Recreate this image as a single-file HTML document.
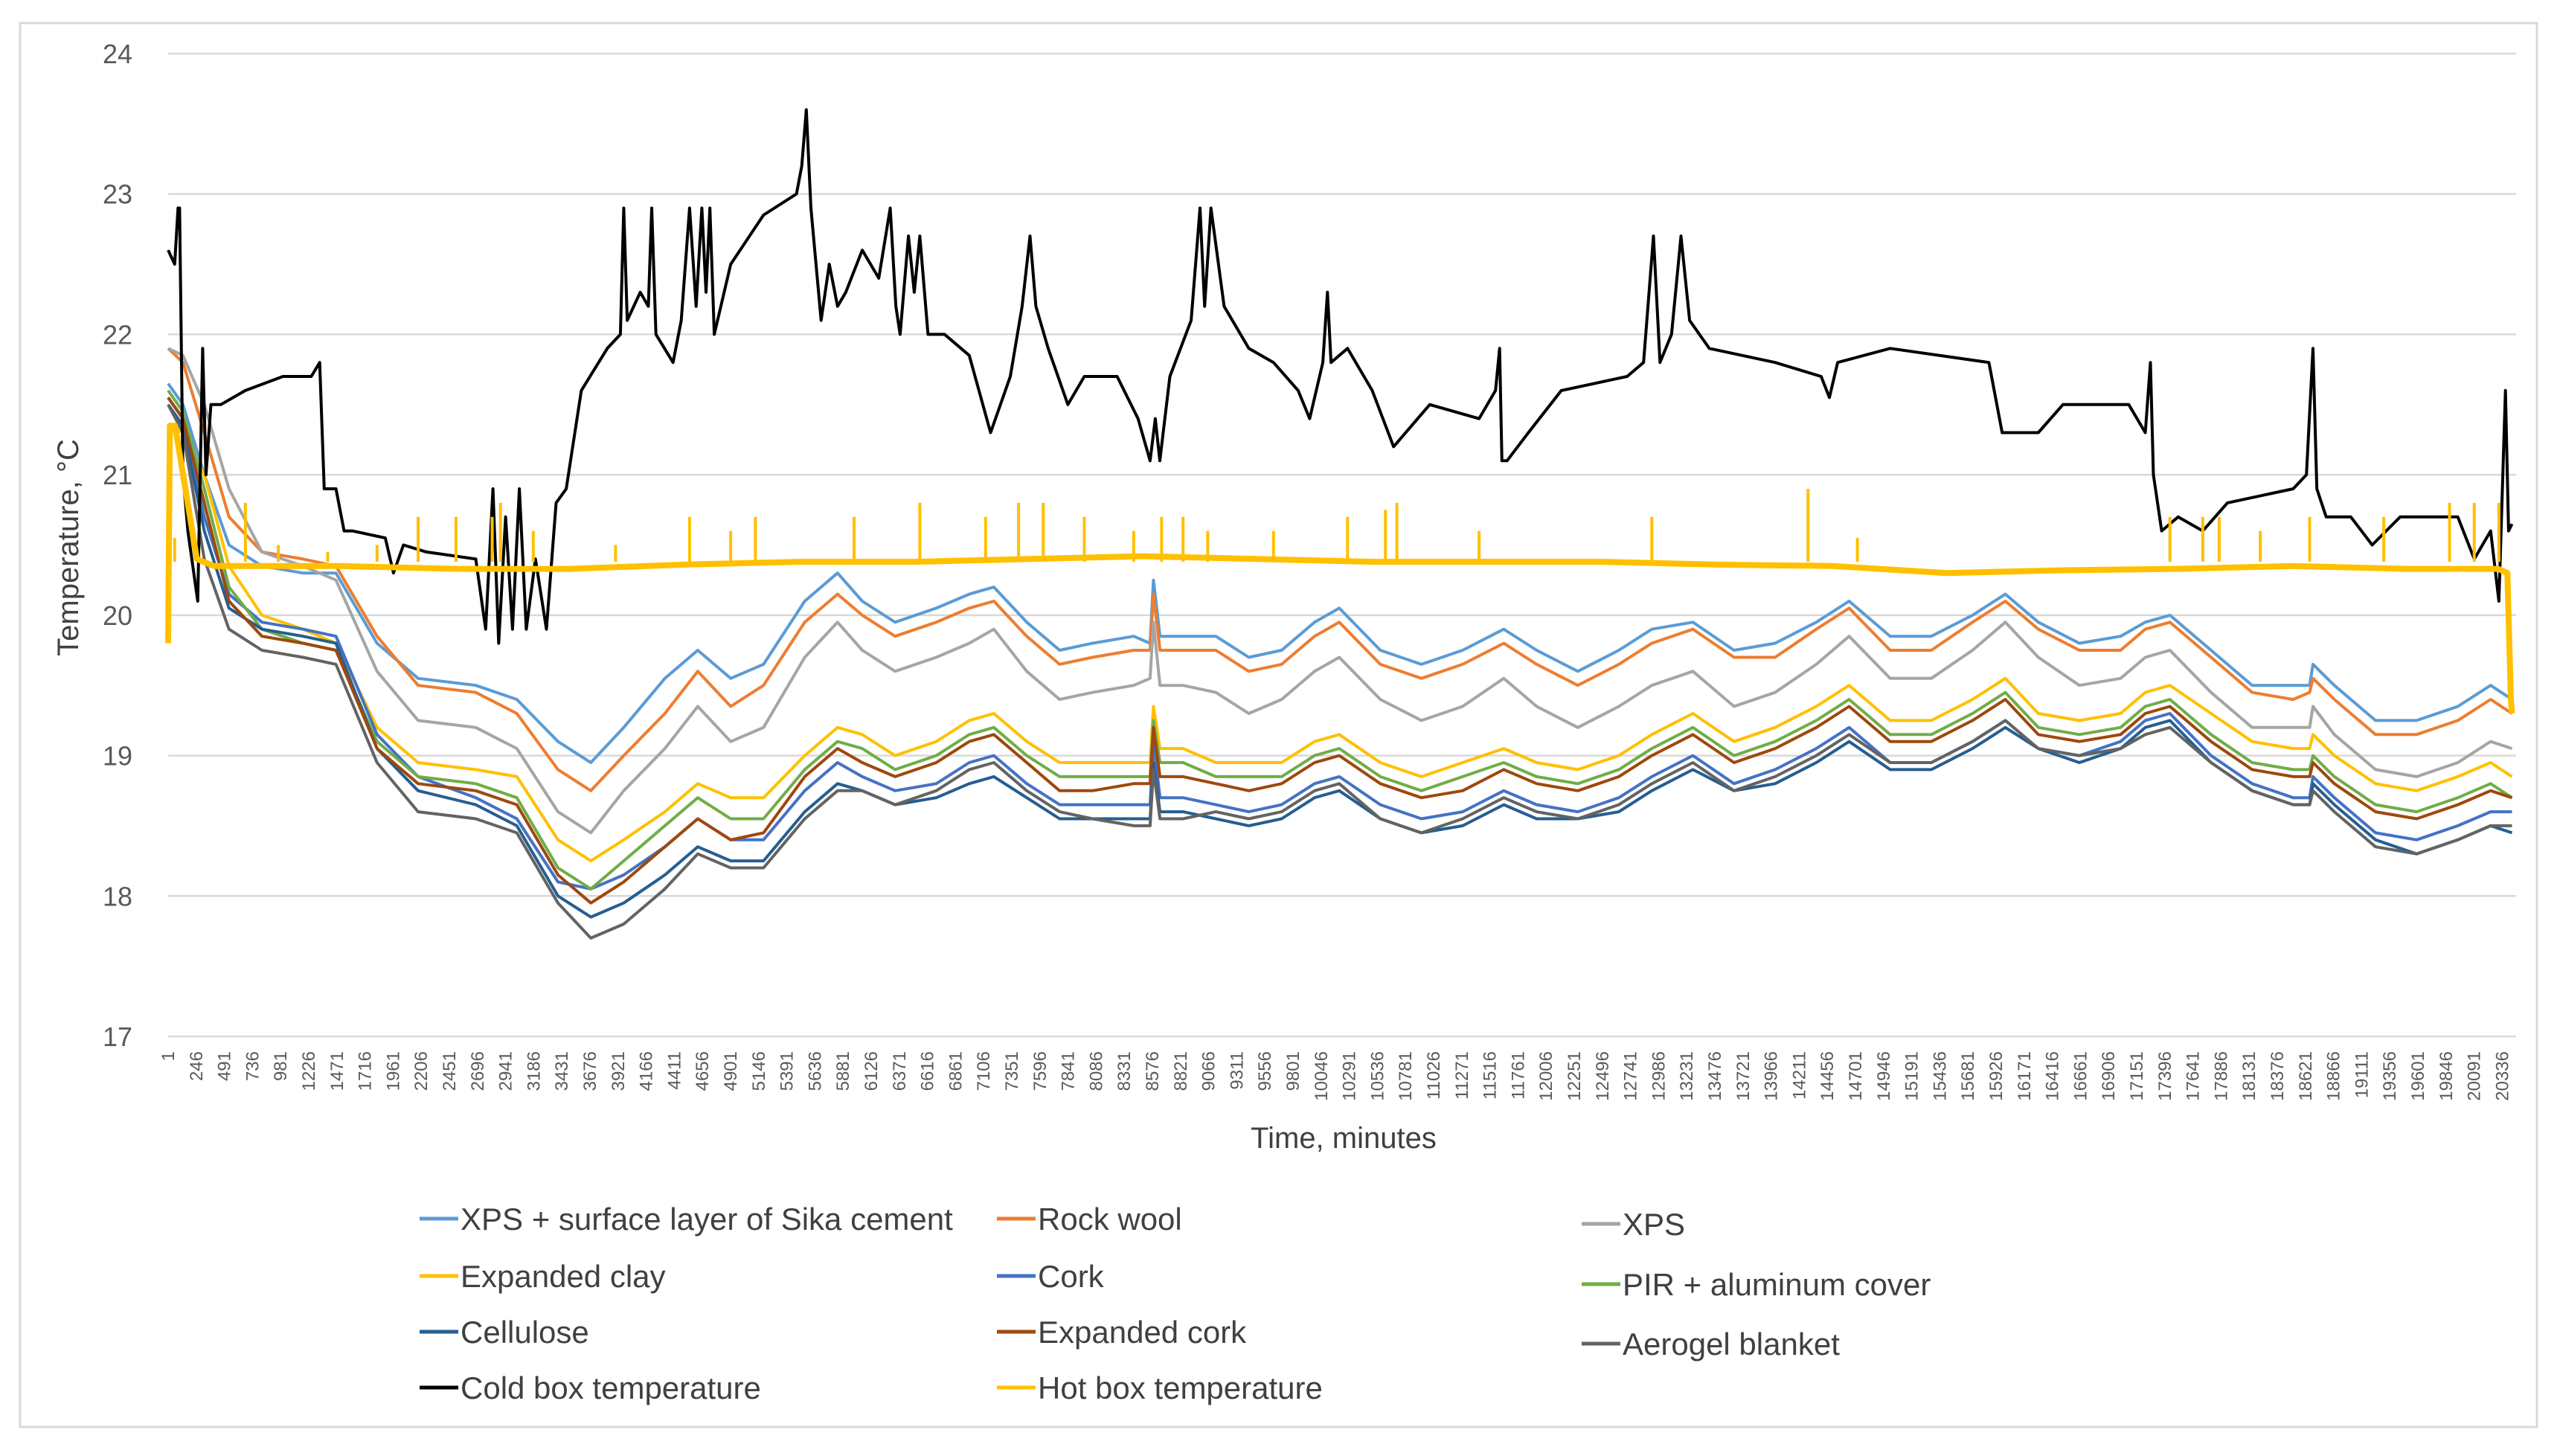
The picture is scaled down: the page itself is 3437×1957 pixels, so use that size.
<!DOCTYPE html>
<html><head><meta charset="utf-8"><style>
html,body{margin:0;padding:0;background:#fff;}
svg{display:block;font-family:"Liberation Sans",sans-serif;}
</style></head><body>
<svg id="chart" width="3437" height="1957" viewBox="0 0 3437 1957" xmlns="http://www.w3.org/2000/svg">
<rect x="27" y="31" width="3383" height="1887" fill="#fff" stroke="#d9d9d9" stroke-width="3"/>
<g id="grid"></g>
<g id="ylabels"></g>
<g id="xlabels"></g>
<g id="series"></g>
<text x="1806" y="1543" font-size="40" fill="#404040" text-anchor="middle">Time, minutes</text>
<text transform="translate(105,736) rotate(-90)" font-size="40" fill="#404040" text-anchor="middle">Temperature, °C</text>
<g id="legend"></g>
</svg>
<script>
const yTicks=[17,18,19,20,21,22,23,24];
const tMat=[0,129,315,530,817,1175,1462,1820,2178,2680,3038,3396,3683,3969,4328,4614,4901,5187,5546,5832,6047,6334,6692,6979,7194,7480,7767,8053,8412,8555,8584,8641,8842,9128,9415,9701,9988,10203,10561,10919,11278,11636,11923,12281,12639,12926,13284,13642,14000,14359,14645,15003,15361,15720,16006,16293,16651,17010,17225,17440,17798,18156,18514,18657,18686,18872,19231,19589,19948,20234,20420];
const sika=[21.65,21.5,21.0,20.5,20.35,20.3,20.3,19.8,19.55,19.5,19.4,19.1,18.95,19.2,19.55,19.75,19.55,19.65,20.1,20.3,20.1,19.95,20.05,20.15,20.2,19.95,19.75,19.8,19.85,19.8,20.25,19.85,19.85,19.85,19.7,19.75,19.95,20.05,19.75,19.65,19.75,19.9,19.75,19.6,19.75,19.9,19.95,19.75,19.8,19.95,20.1,19.85,19.85,20.0,20.15,19.95,19.8,19.85,19.95,20.0,19.75,19.5,19.5,19.5,19.65,19.5,19.25,19.25,19.35,19.5,19.4];
const rockwool=[21.9,21.8,21.3,20.7,20.45,20.4,20.35,19.85,19.5,19.45,19.3,18.9,18.75,19.0,19.3,19.6,19.35,19.5,19.95,20.15,20.0,19.85,19.95,20.05,20.1,19.85,19.65,19.7,19.75,19.75,20.15,19.75,19.75,19.75,19.6,19.65,19.85,19.95,19.65,19.55,19.65,19.8,19.65,19.5,19.65,19.8,19.9,19.7,19.7,19.9,20.05,19.75,19.75,19.95,20.1,19.9,19.75,19.75,19.9,19.95,19.7,19.45,19.4,19.45,19.55,19.4,19.15,19.15,19.25,19.4,19.3];
const xps=[21.9,21.85,21.5,20.9,20.45,20.35,20.25,19.6,19.25,19.2,19.05,18.6,18.45,18.75,19.05,19.35,19.1,19.2,19.7,19.95,19.75,19.6,19.7,19.8,19.9,19.6,19.4,19.45,19.5,19.55,19.95,19.5,19.5,19.45,19.3,19.4,19.6,19.7,19.4,19.25,19.35,19.55,19.35,19.2,19.35,19.5,19.6,19.35,19.45,19.65,19.85,19.55,19.55,19.75,19.95,19.7,19.5,19.55,19.7,19.75,19.45,19.2,19.2,19.2,19.35,19.15,18.9,18.85,18.95,19.1,19.05];
const clay=[21.35,21.3,21.0,20.35,20.0,19.9,19.8,19.2,18.95,18.9,18.85,18.4,18.25,18.4,18.6,18.8,18.7,18.7,19.0,19.2,19.15,19.0,19.1,19.25,19.3,19.1,18.95,18.95,18.95,18.95,19.35,19.05,19.05,18.95,18.95,18.95,19.1,19.15,18.95,18.85,18.95,19.05,18.95,18.9,19.0,19.15,19.3,19.1,19.2,19.35,19.5,19.25,19.25,19.4,19.55,19.3,19.25,19.3,19.45,19.5,19.3,19.1,19.05,19.05,19.15,19.0,18.8,18.75,18.85,18.95,18.85];
const cork=[21.55,21.4,20.7,20.15,19.95,19.9,19.85,19.15,18.85,18.7,18.55,18.1,18.05,18.15,18.35,18.55,18.4,18.4,18.75,18.95,18.85,18.75,18.8,18.95,19.0,18.8,18.65,18.65,18.65,18.65,19.1,18.7,18.7,18.65,18.6,18.65,18.8,18.85,18.65,18.55,18.6,18.75,18.65,18.6,18.7,18.85,19.0,18.8,18.9,19.05,19.2,18.95,18.95,19.1,19.25,19.05,19.0,19.1,19.25,19.3,19.0,18.8,18.7,18.7,18.85,18.7,18.45,18.4,18.5,18.6,18.6];
const pir=[21.6,21.45,20.9,20.2,19.9,19.8,19.75,19.1,18.85,18.8,18.7,18.2,18.05,18.25,18.5,18.7,18.55,18.55,18.9,19.1,19.05,18.9,19.0,19.15,19.2,19.0,18.85,18.85,18.85,18.85,19.25,18.95,18.95,18.85,18.85,18.85,19.0,19.05,18.85,18.75,18.85,18.95,18.85,18.8,18.9,19.05,19.2,19.0,19.1,19.25,19.4,19.15,19.15,19.3,19.45,19.2,19.15,19.2,19.35,19.4,19.15,18.95,18.9,18.9,19.0,18.85,18.65,18.6,18.7,18.8,18.7];
const cellulose=[21.5,21.35,20.6,20.05,19.9,19.85,19.8,19.05,18.75,18.65,18.5,18.0,17.85,17.95,18.15,18.35,18.25,18.25,18.6,18.8,18.75,18.65,18.7,18.8,18.85,18.7,18.55,18.55,18.55,18.55,18.95,18.6,18.6,18.55,18.5,18.55,18.7,18.75,18.55,18.45,18.5,18.65,18.55,18.55,18.6,18.75,18.9,18.75,18.8,18.95,19.1,18.9,18.9,19.05,19.2,19.05,18.95,19.05,19.2,19.25,18.95,18.75,18.65,18.65,18.8,18.65,18.4,18.3,18.4,18.5,18.45];
const expcork=[21.55,21.4,20.8,20.1,19.85,19.8,19.75,19.05,18.8,18.75,18.65,18.15,17.95,18.1,18.35,18.55,18.4,18.45,18.85,19.05,18.95,18.85,18.95,19.1,19.15,18.95,18.75,18.75,18.8,18.8,19.2,18.85,18.85,18.8,18.75,18.8,18.95,19.0,18.8,18.7,18.75,18.9,18.8,18.75,18.85,19.0,19.15,18.95,19.05,19.2,19.35,19.1,19.1,19.25,19.4,19.15,19.1,19.15,19.3,19.35,19.1,18.9,18.85,18.85,18.95,18.8,18.6,18.55,18.65,18.75,18.7];
const aerogel=[21.5,21.3,20.4,19.9,19.75,19.7,19.65,18.95,18.6,18.55,18.45,17.95,17.7,17.8,18.05,18.3,18.2,18.2,18.55,18.75,18.75,18.65,18.75,18.9,18.95,18.75,18.6,18.55,18.5,18.5,18.9,18.55,18.55,18.6,18.55,18.6,18.75,18.8,18.55,18.45,18.55,18.7,18.6,18.55,18.65,18.8,18.95,18.75,18.85,19.0,19.15,18.95,18.95,19.1,19.25,19.05,19.0,19.05,19.15,19.2,18.95,18.75,18.65,18.65,18.75,18.6,18.35,18.3,18.4,18.5,18.5];
const coldT=[0,57,86,100,129,172,258,301,330,373,459,673,1000,1247,1320,1360,1462,1533,1605,1892,1963,2050,2250,2680,2766,2830,2880,2940,3000,3060,3120,3200,3296,3380,3468,3600,3826,3940,3969,4000,4113,4184,4213,4250,4399,4470,4543,4600,4650,4686,4720,4758,4901,5187,5474,5520,5560,5600,5689,5760,5832,5904,6047,6191,6291,6340,6377,6450,6500,6549,6620,6764,6979,7165,7337,7440,7509,7560,7667,7839,7982,8268,8450,8555,8600,8640,8727,8913,8990,9030,9085,9200,9415,9630,9845,9945,10060,10100,10131,10275,10490,10676,10991,11421,11564,11600,11620,11665,11851,12138,12711,12854,12940,12997,13098,13180,13255,13427,14000,14401,14473,14545,15003,15863,15978,16293,16508,17081,17225,17270,17296,17368,17511,17726,17941,18514,18629,18686,18720,18801,19016,19202,19446,19948,20091,20234,20306,20363,20390,20420];
const coldV=[22.6,22.5,22.9,22.9,21.0,20.6,20.1,21.9,21.0,21.5,21.5,21.6,21.7,21.7,21.8,20.9,20.9,20.6,20.6,20.55,20.3,20.5,20.45,20.4,19.9,20.9,19.8,20.7,19.9,20.9,19.9,20.4,19.9,20.8,20.9,21.6,21.9,22.0,22.9,22.1,22.3,22.2,22.9,22.0,21.8,22.1,22.9,22.2,22.9,22.3,22.9,22.0,22.5,22.85,23.0,23.2,23.6,22.9,22.1,22.5,22.2,22.3,22.6,22.4,22.9,22.2,22.0,22.7,22.3,22.7,22.0,22.0,21.85,21.3,21.7,22.2,22.7,22.2,21.9,21.5,21.7,21.7,21.4,21.1,21.4,21.1,21.7,22.1,22.9,22.2,22.9,22.2,21.9,21.8,21.6,21.4,21.8,22.3,21.8,21.9,21.6,21.2,21.5,21.4,21.6,21.9,21.1,21.1,21.3,21.6,21.7,21.8,22.7,21.8,22.0,22.7,22.1,21.9,21.8,21.7,21.55,21.8,21.9,21.8,21.3,21.3,21.5,21.5,21.3,21.8,21.0,20.6,20.7,20.6,20.8,20.9,21.0,21.9,20.9,20.7,20.7,20.5,20.7,20.7,20.4,20.6,20.1,21.6,20.6,20.65];
const hotT=[0,15,60,250,400,1500,2500,3500,4500,5500,6500,7500,8500,9500,10500,11500,12500,13500,14500,15500,16500,17500,18500,19500,20300,20380,20410,20420];
const hotV=[19.8,21.35,21.35,20.4,20.35,20.35,20.33,20.33,20.36,20.38,20.38,20.4,20.42,20.4,20.38,20.38,20.38,20.36,20.35,20.3,20.32,20.33,20.35,20.33,20.33,20.3,19.4,19.3];
const spikeT=[57,673,960,1390,1820,2178,2508,2823,2895,3181,3898,4543,4901,5116,5976,6549,7122,7409,7624,7982,8412,8655,8842,9057,9630,10275,10605,10705,11421,12926,14287,14717,17440,17726,17869,18227,18657,19303,19876,20091,20306];
const spikeV=[20.55,20.8,20.5,20.45,20.5,20.7,20.7,20.7,20.8,20.6,20.5,20.7,20.6,20.7,20.7,20.8,20.7,20.8,20.8,20.7,20.6,20.7,20.7,20.6,20.6,20.7,20.75,20.8,20.6,20.7,20.9,20.55,20.7,20.7,20.7,20.6,20.7,20.7,20.8,20.8,20.8];
const xTickLabels=[];for(let i=0;i<84;i++)xTickLabels.push(String(1+245*i));

const NS="http://www.w3.org/2000/svg";
const X0=226,PX_PER_MIN=37.8/245,Y17=1393,PX_PER_DEG=(1393-72)/7;
function xs(t){return X0+t*PX_PER_MIN;}
function ys(v){return Y17-(v-17)*PX_PER_DEG;}
function mk(tag,parent,attrs){const e=document.createElementNS(NS,tag);for(const k in attrs)e.setAttribute(k,attrs[k]);parent.appendChild(e);return e;}
const grid=document.getElementById('grid'),yl=document.getElementById('ylabels'),xl=document.getElementById('xlabels'),ser=document.getElementById('series'),leg=document.getElementById('legend');
yTicks.forEach(v=>{
  const l=mk('line',grid,{x1:X0,x2:3382,y1:ys(v),y2:ys(v),stroke:'#d9d9d9','stroke-width':2.5});
  
  
  const t=mk('text',yl,{x:178,y:ys(v)+13,'font-size':36,fill:'#595959','text-anchor':'end'});
  t.textContent=v;
  
  
});
xTickLabels.forEach((s,i)=>{
  const x=X0+i*37.8+8;
  const t=mk('text',xl,{transform:'translate('+x+',1413) rotate(-90)','font-size':24,fill:'#595959','text-anchor':'end'});
  t.textContent=s;
  
  
});
function line(T,V,color,name,w){
  let d='';T.forEach((t,i)=>{d+=(i?'L':'M')+xs(t).toFixed(1)+' '+ys(V[i]).toFixed(1);});
  const p=mk('path',ser,{d:d,fill:'none',stroke:color,'stroke-width':w,'stroke-linejoin':'round'});
  
  
}
const mats=[[sika,'#5b9bd5','xps-sika-line'],[rockwool,'#ed7d31','rock-wool-line'],[xps,'#a5a5a5','xps-line'],[clay,'#ffc000','expanded-clay-line'],[cork,'#4472c4','cork-line'],[pir,'#70ad47','pir-line'],[cellulose,'#255e91','cellulose-line'],[expcork,'#9e480e','expanded-cork-line'],[aerogel,'#636363','aerogel-line']];
mats.forEach(m=>line(tMat,m[0],m[1],m[2],4));
line(coldT,coldV,'#000000','cold-box-line',4);
line(hotT,hotV,'#ffc000','hot-box-line',8);
spikeT.forEach((t,i)=>{
  const s=mk('line',ser,{x1:xs(t),x2:xs(t),y1:ys(20.38),y2:ys(spikeV[i]),stroke:'#ffc000','stroke-width':4});
  
  
});
const legItems=[['XPS + surface layer of Sika cement','#5b9bd5',564,1638],['Rock wool','#ed7d31',1340,1638],['XPS','#a5a5a5',2126,1645],['Expanded clay','#ffc000',564,1715],['Cork','#4472c4',1340,1715],['PIR + aluminum cover','#70ad47',2126,1726],['Cellulose','#255e91',564,1790],['Expanded cork','#9e480e',1340,1790],['Aerogel blanket','#636363',2126,1806],['Cold box temperature','#000000',564,1865],['Hot box temperature','#ffc000',1340,1865]];
legItems.forEach(it=>{
  const g=mk('g',leg,{});
  
  
  mk('line',g,{x1:it[2],x2:it[2]+52,y1:it[3],y2:it[3],stroke:it[1],'stroke-width':5});
  const t=mk('text',g,{x:it[2]+55,y:it[3]+15,'font-size':42,fill:'#404040'});
  t.textContent=it[0];
});
</script>
</body></html>
